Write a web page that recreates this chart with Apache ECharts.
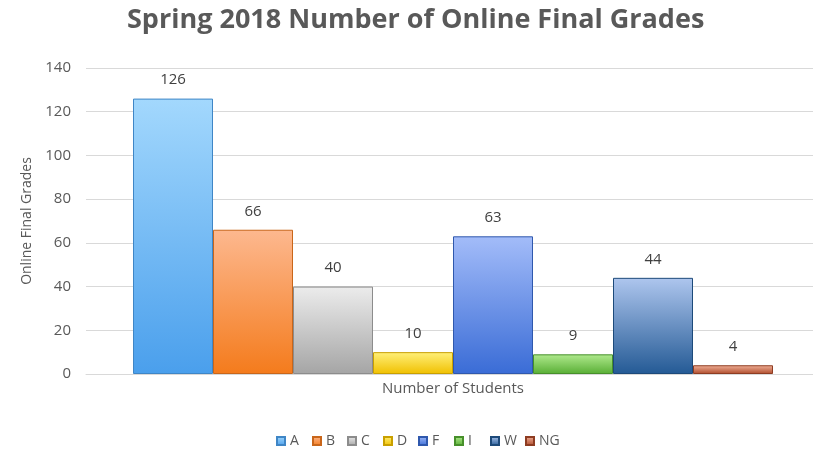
<!DOCTYPE html>
<html>
<head>
<meta charset="utf-8">
<script src="https://cdn.jsdelivr.net/npm/echarts@6/dist/echarts.min.js"></script>
<style>
  html, body { margin: 0; padding: 0; background: #fff; }
  #main { width: 813px; height: 451px; }
</style>
</head>
<body>
<div id="main"></div>
<script>
var grades = ['A', 'B', 'C', 'D', 'F', 'I', 'W', 'NG'];
var counts = [126, 66, 40, 10, 63, 9, 44, 4];
var category = ['Number of Students'];
// top colour, bottom colour, edge colour
var topColors = ['#a3d8fd', '#fdb88f', '#ececec', '#fff07a', '#a3bcf9', '#b0ea8e', '#aec6ee', '#f2b39b'];
var bottomColors = ['#4a9fec', '#f47b1c', '#a5a5a5', '#f0c000', '#3a6cd6', '#58ae34', '#245a95', '#ae4a2a'];
var edgeColors = ['#3f86c6', '#c9661a', '#8c8c8c', '#c9a000', '#2f58ad', '#47902b', '#1d4a7a', '#8e3c22'];

function grad(i) {
    return new echarts.graphic.LinearGradient(0, 0, 0, 1, [
        { offset: 0, color: topColors[i] },
        { offset: 1, color: bottomColors[i] }
    ]);
}

var series = grades.map(function (g, i) {
    return {
        name: g,
        type: 'bar',
        data: [counts[i]],
        barGap: '0%',
        barWidth: 80,
        itemStyle: {
            color: grad(i),
            borderColor: edgeColors[i],
            borderWidth: 1
        },
        label: {
            show: true,
            position: 'top',
            distance: 11,
            color: '#404040',
            fontFamily: 'Open Sans',
            fontSize: 15
        }
    };
});

// one legend per grade so the items sit at even steps like the original
var legends = grades.map(function (g, i) {
    return {
        top: 429,
        left: 271 + Math.round(i * 35.6),
        padding: 5,
        itemWidth: 8,
        itemHeight: 8,
        icon: 'rect',
        textStyle: { color: '#595959', fontFamily: 'Open Sans', fontSize: 14 },
        data: [g]
    };
});

var chart = echarts.init(document.getElementById('main'));
chart.setOption({
    animation: false,
    title: {
        text: 'Spring 2018 Number of Online Final Grades',
        left: 127,
        top: 7,
        padding: 0,
        textStyle: {
            color: '#595959',
            fontFamily: 'Open Sans',
            fontWeight: 'bold',
            fontSize: 27
        }
    },
    legend: legends,
    grid: { left: 86, top: 68, width: 734, bottom: 77, containLabel: false, outerBoundsMode: 'none' },
    xAxis: {
        type: 'category',
        data: category,
        axisLine: { lineStyle: { color: '#d9d9d9', width: 1 } },
        axisTick: { show: false },
        axisLabel: { color: '#595959', fontFamily: 'Open Sans', fontSize: 15, margin: 7 }
    },
    yAxis: {
        type: 'value',
        min: 0,
        max: 140,
        interval: 20,
        name: 'Online Final Grades',
        nameLocation: 'middle',
        nameRotate: 90,
        nameGap: 47,
        nameTextStyle: { color: '#595959', fontFamily: 'Open Sans', fontSize: 14 },
        axisLine: { show: false },
        axisTick: { show: false },
        axisLabel: { color: '#595959', fontFamily: 'Open Sans', fontSize: 15, margin: 15 },
        splitLine: { lineStyle: { color: '#d9d9d9', width: 1 } }
    },
    series: series
});
</script>
</body>
</html>
